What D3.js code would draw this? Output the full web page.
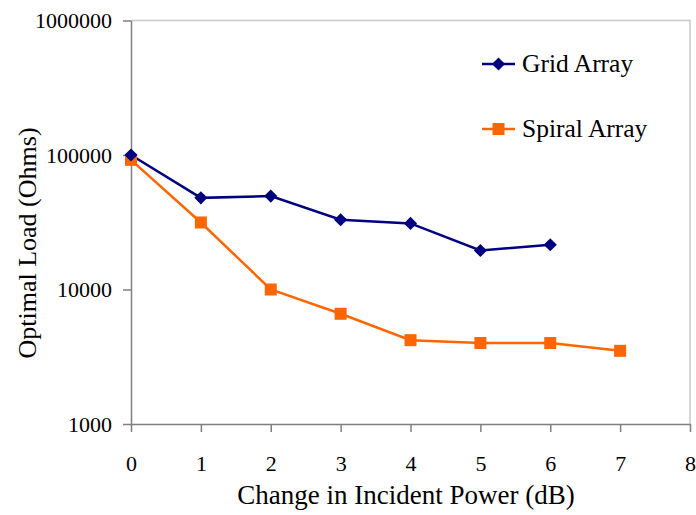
<!DOCTYPE html>
<html>
<head>
<meta charset="utf-8">
<script src="https://cdn.jsdelivr.net/npm/d3@7"></script>
<style>
  body { margin: 0; background: #fff; }
  text { font-family: "Liberation Serif", "Times New Roman", serif; fill: #000; }
</style>
</head>
<body>
<div id="chart"></div>
<script>
const powerSteps = [0, 1, 2, 3, 4, 5, 6, 7, 8];
const loadTicks = [1000, 10000, 100000, 1000000];

const gridX = [0, 1, 2, 3, 4, 5, 6];
const gridLoad = [100000, 48000, 49500, 33000, 31000, 19500, 21500];

const spiralX = [0, 1, 2, 3, 4, 5, 6, 7];
const spiralLoad = [92000, 31500, 10000, 6600, 4200, 4000, 4000, 3500];

const width = 696;
const height = 515;
const margin = { top: 20.5, right: 6, bottom: 91, left: 131 };

const svg = d3.select("#chart")
    .append("svg")
    .attr("width", width)
    .attr("height", height);

const xScale = d3.scaleLinear()
    .domain([0, 8])
    .range([margin.left, width - margin.right]);

const yScale = d3.scaleLog()
    .domain([1000, 1000000])
    .range([height - margin.bottom, margin.top]);

// light frame on top and right of the plot area
svg.append("path")
    .attr("d", `M${xScale(0)},${yScale(1e6)}H${xScale(8)}V${yScale(1000)}`)
    .attr("fill", "none")
    .attr("stroke", "#c8c8c8")
    .attr("stroke-width", 1.5);

const xAxis = svg.append("g")
    .attr("transform", `translate(0,${yScale(1000)})`)
    .call(d3.axisBottom(xScale).tickValues(powerSteps).tickFormat(d3.format("d")).tickSize(8).tickSizeOuter(0).tickPadding(39));
xAxis.select(".domain").attr("stroke", "#808080").attr("stroke-width", 1.5);
xAxis.selectAll("line").attr("stroke", "#808080").attr("stroke-width", 1.5);
xAxis.selectAll("text").attr("font-size", 22).attr("font-family", "Liberation Serif").attr("dy", "0");

const yAxis = svg.append("g")
    .attr("transform", `translate(${xScale(0)},0)`)
    .call(d3.axisLeft(yScale).tickValues(loadTicks).tickFormat(d3.format("d")).tickSize(8).tickSizeOuter(0).tickPadding(11));
yAxis.select(".domain").attr("stroke", "#808080").attr("stroke-width", 1.5);
yAxis.selectAll("line").attr("stroke", "#808080").attr("stroke-width", 1.5);
yAxis.selectAll("text").attr("font-size", 22).attr("font-family", "Liberation Serif").attr("dy", "0.32em");

const line = d3.line()
    .x(d => xScale(d[0]))
    .y(d => yScale(d[1]));

const grid = gridX.map((x, i) => [x, gridLoad[i]]);
const spiral = spiralX.map((x, i) => [x, spiralLoad[i]]);

svg.append("path")
    .datum(spiral)
    .attr("d", line)
    .attr("fill", "none")
    .attr("stroke", "#ff6600")
    .attr("stroke-width", 2.5);

svg.append("path")
    .datum(grid)
    .attr("d", line)
    .attr("fill", "none")
    .attr("stroke", "#000080")
    .attr("stroke-width", 2.5);

svg.selectAll("rect.sq")
    .data(spiral)
    .join("rect")
    .attr("class", "sq")
    .attr("x", d => xScale(d[0]) - 6)
    .attr("y", d => yScale(d[1]) - 6)
    .attr("width", 12)
    .attr("height", 12)
    .attr("fill", "#ff6600");

const diamond = d3.symbol().type(d3.symbolDiamond2).size(110);
svg.selectAll("path.dm")
    .data(grid)
    .join("path")
    .attr("class", "dm")
    .attr("d", diamond)
    .attr("transform", d => `translate(${xScale(d[0])},${yScale(d[1])})`)
    .attr("fill", "#000080");

// legend
const legend = svg.append("g");
const legendItems = [
    { name: "Grid Array", color: "#000080", y: 64 },
    { name: "Spiral Array", color: "#ff6600", y: 129 }
];
legend.selectAll("line")
    .data(legendItems)
    .join("line")
    .attr("x1", 482).attr("x2", 515)
    .attr("y1", d => d.y).attr("y2", d => d.y)
    .attr("stroke", d => d.color)
    .attr("stroke-width", 2.5);
legend.append("path")
    .attr("d", diamond)
    .attr("transform", `translate(498.5,64)`)
    .attr("fill", "#000080");
legend.append("rect")
    .attr("x", 492.5).attr("y", 123)
    .attr("width", 12).attr("height", 12)
    .attr("fill", "#ff6600");
legend.selectAll("text")
    .data(legendItems)
    .join("text")
    .attr("x", 522)
    .attr("y", d => d.y)
    .attr("dy", "0.33em")
    .attr("font-size", 25.5)
    .text(d => d.name);

svg.append("text")
    .attr("x", 406)
    .attr("y", 504)
    .attr("text-anchor", "middle")
    .attr("font-size", 27)
    .text("Change in Incident Power (dB)");

svg.append("text")
    .attr("transform", "translate(36,243) rotate(-90)")
    .attr("text-anchor", "middle")
    .attr("font-size", 26)
    .text("Optimal Load (Ohms)");
</script>
</body>
</html>
